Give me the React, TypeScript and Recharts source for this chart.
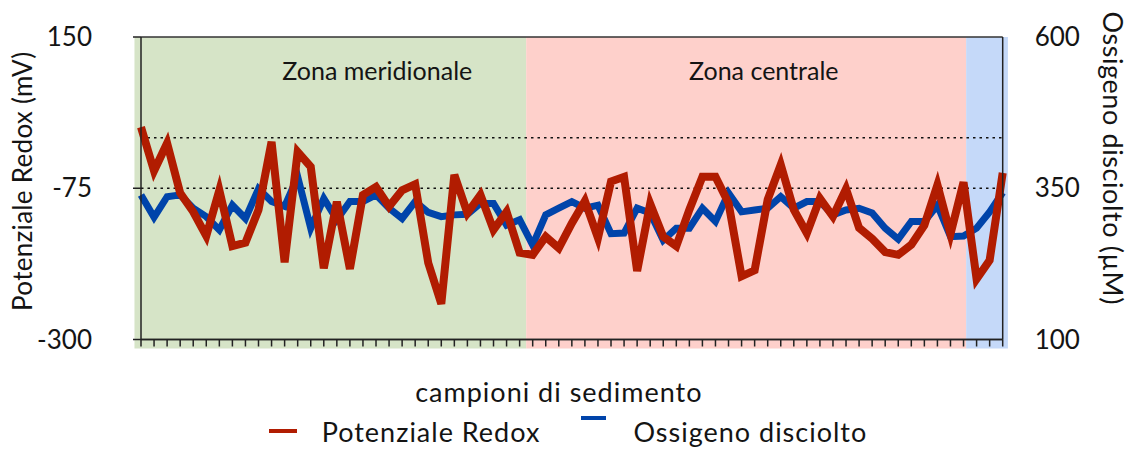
import React from 'react'
import { LineChart, Line, XAxis, YAxis, ReferenceArea, ReferenceLine, Legend } from 'recharts'

const FONT = 'Lato, "Open Sans", sans-serif'
const INK = '#141414'

// redox potential per sample (mV)
const redox = [
  16, -49, -8, -82, -110, -146, -78, -161, -156, -107, -6, -185, -21, -43, -194, -95, -195, -85, -73, -102,
  -78, -69, -186, -247, -55, -112, -85, -137, -110, -171, -174, -147, -164, -127, -94, -149, -65, -58, -198,
  -98, -147, -161, -107, -58, -58, -97, -206, -197, -92, -40, -107, -142, -90, -117, -76, -134, -150, -170,
  -174, -159, -130, -70, -143, -66, -210, -182, -52,
]

// dissolved oxygen per sample (µM)
const oxygen = [
  339, 302, 336, 339, 317, 303, 281, 322, 300, 349, 328, 320, 369, 284, 333, 298, 328, 328, 339, 317, 300,
  328, 310, 303, 306, 307, 325, 325, 289, 298, 256, 306, 317, 328, 317, 322, 275, 276, 317, 309, 264, 284,
  284, 317, 295, 342, 311, 314, 317, 336, 317, 328, 328, 306, 314, 317, 309, 284, 266, 295, 295, 322, 270,
  271, 284, 311, 343,
]

const redoxTicks = [-300, -75, 150]
const oxygenTicks = [100, 350, 600]
const guideLevels = [0, -75]

// sampling zones along the transect (in sample index units)
const zoneNames = ['Zona meridionale', 'Zona centrale', '']
const zoneStart = [-0.5, 29.5, 63.2]
const zoneEnd = [29.5, 63.2, 66.4]
const zoneLabelAt = [18.1, 47.7, 0]
const zoneColors = ['#d6e4c7', '#fed0cb', '#c5d9f9']

const seriesNames = ['Potenziale Redox', 'Ossigeno disciolto']
const seriesColors = ['#b11c01', '#0044aa']

const data = redox.map((v, i) => ({ sample: i, redox: v, oxygen: oxygen[i] }))
const sampleTicks = data.map((d) => d.sample)

function ZoneLabel(props: any) {
  const { viewBox, value, from, to, at } = props
  if (!value) return null
  const x = viewBox.x + ((at - from) / (to - from)) * viewBox.width
  return (
    <text x={x} y={viewBox.y + 43} textAnchor="middle" fontFamily={FONT} fontSize={25} fill={INK}>
      {value}
    </text>
  )
}

function AxisTitle(props: any) {
  const { viewBox, value, side } = props
  const left = side === 'left'
  const x = left ? viewBox.x + 22 : viewBox.x + viewBox.width - 23
  const y = viewBox.y + viewBox.height / 2 + (left ? -7 : -30)
  return (
    <text
      x={x}
      y={y}
      transform={`rotate(${left ? -90 : 90}, ${x}, ${y})`}
      textAnchor="middle"
      dominantBaseline="central"
      fontFamily={FONT}
      fontSize={left ? 26 : 27}
      letterSpacing={left ? 0.3 : 0.6}
      fill={INK}
    >
      {value}
    </text>
  )
}

function XTitle(props: any) {
  const { viewBox, value } = props
  return (
    <text
      x={viewBox.x + viewBox.width / 2 - 13}
      y={viewBox.y + viewBox.height - 11}
      textAnchor="middle"
      fontFamily={FONT}
      fontSize={27}
      letterSpacing={1}
      fill={INK}
    >
      {value}
    </text>
  )
}

// the x axis only carries tick marks, no tick text
const NoTickText = () => <g />

function renderLegend() {
  return (
    <div
      style={{
        display: 'flex',
        justifyContent: 'center',
        alignItems: 'center',
        height: 36,
        fontFamily: FONT,
        fontSize: 27,
        letterSpacing: 1,
        color: INK,
      }}
    >
      {seriesNames.map((name, i) => (
        <div key={name} style={{ display: 'flex', alignItems: 'center', marginLeft: i === 0 ? 0 : 41 }}>
          <span
            style={{
              display: 'inline-block',
              width: i === 0 ? 28 : 25,
              height: 4,
              background: seriesColors[i],
              position: 'relative',
              top: i === 0 ? 0 : -13,
              marginRight: i === 0 ? 25 : 27,
            }}
          />
          <span>{name}</span>
        </div>
      ))}
    </div>
  )
}

export default function App() {
  return (
    <div style={{ position: 'absolute', left: 0, top: 0, width: 1136, height: 449, background: '#fff' }}>
      <LineChart width={1136} height={449} data={data} margin={{ top: 37, right: 0, bottom: 0, left: 0 }}>
        {zoneNames.map((name, i) => (
          <ReferenceArea
            key={i}
            yAxisId="redox"
            x1={zoneStart[i]}
            x2={zoneEnd[i]}
            y1={-313.5}
            y2={150}
            ifOverflow="visible"
            fill={zoneColors[i]}
            fillOpacity={1}
            stroke="none"
            label={<ZoneLabel value={name} from={zoneStart[i]} to={zoneEnd[i]} at={zoneLabelAt[i]} />}
          />
        ))}
        {guideLevels.map((v) => (
          <ReferenceLine key={v} yAxisId="redox" y={v} stroke="#111" strokeWidth={1.5} strokeDasharray="2.5 4" />
        ))}
        <ReferenceLine yAxisId="redox" y={150} stroke="#333" strokeWidth={1.5} />
        <ReferenceLine yAxisId="redox" y={-300} stroke="#222" strokeWidth={1.5} />
        <XAxis
          dataKey="sample"
          type="number"
          domain={[0, sampleTicks.length - 1]}
          ticks={sampleTicks}
          interval={0}
          tick={NoTickText}
          tickSize={7}
          height={73.5}
          axisLine={{ stroke: '#222', strokeWidth: 1.5 }}
          tickLine={{ stroke: '#222', strokeWidth: 1.5 }}
          label={<XTitle value="campioni di sedimento" />}
        />
        <YAxis
          yAxisId="redox"
          orientation="left"
          width={141}
          domain={[-300, 150]}
          ticks={redoxTicks}
          interval={0}
          tickSize={8}
          tickMargin={41}
          axisLine={{ stroke: '#222', strokeWidth: 1.5 }}
          tickLine={{ stroke: '#222', strokeWidth: 1.5 }}
          tick={{ fontFamily: FONT, fontSize: 26, fill: INK }}
          label={<AxisTitle value="Potenziale Redox (mV)" side="left" />}
        />
        <YAxis
          yAxisId="oxygen"
          orientation="right"
          width={133.3}
          domain={[100, 600]}
          ticks={oxygenTicks}
          interval={0}
          tickSize={0}
          tickMargin={32}
          tickLine={false}
          axisLine={{ stroke: '#222', strokeWidth: 1.5 }}
          tick={{ fontFamily: FONT, fontSize: 26, fill: INK }}
          label={<AxisTitle value="Ossigeno disciolto (µM)" side="right" />}
        />
        <Line
          yAxisId="oxygen"
          dataKey="oxygen"
          name={seriesNames[1]}
          type="linear"
          stroke={seriesColors[1]}
          strokeWidth={7}
          dot={false}
          isAnimationActive={false}
        />
        <Line
          yAxisId="redox"
          dataKey="redox"
          name={seriesNames[0]}
          type="linear"
          stroke={seriesColors[0]}
          strokeWidth={8}
          dot={false}
          isAnimationActive={false}
        />
        <Legend verticalAlign="bottom" align="center" content={renderLegend} />
      </LineChart>
    </div>
  )
}
